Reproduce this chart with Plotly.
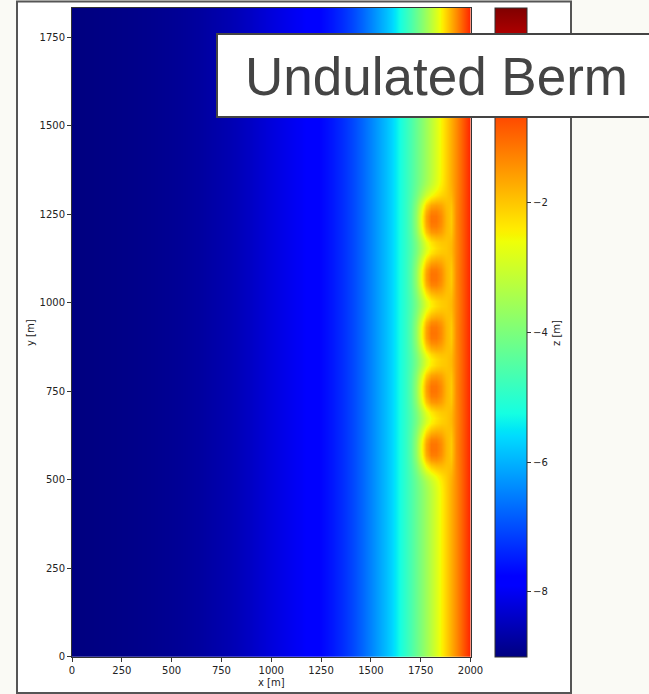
import numpy as np
import plotly.graph_objects as go

W, H = 649, 694

# Cross-shore bed profile (x in m, z in m)
profile_x = [0, 50, 100, 150, 200, 250, 300, 350, 400, 450, 500, 550, 600, 650,
             700, 750, 800, 850, 900, 950, 1000, 1050, 1100, 1150, 1200, 1250,
             1300, 1350, 1400, 1450, 1500, 1525, 1550, 1575, 1600, 1625, 1650,
             1675, 1700, 1725, 1750, 1775, 1800, 1825, 1850, 1875, 1900, 1925,
             1950, 1975, 2000]
profile_z = [-9.00, -8.99, -8.98, -8.965, -8.95, -8.935, -8.92, -8.90, -8.88,
             -8.855, -8.83, -8.80, -8.76, -8.72, -8.67, -8.62, -8.56, -8.48,
             -8.40, -8.30, -8.20, -8.12, -8.03, -7.95, -7.85, -7.72, -7.55,
             -7.35, -7.10, -6.80, -6.45, -6.27, -6.08, -5.90, -5.70, -5.45,
             -5.18, -4.90, -4.60, -4.28, -3.95, -3.60, -3.25, -2.88, -2.50,
             -2.12, -1.75, -1.38, -1.00, -0.60, -0.20]

# Undulated berm: crest positions along shore,
# crest cross-shore position, height, widths, and the shallow trough behind it
berm_y = [590, 755, 915, 1075, 1235]
berm_x = 1792
berm_height = 2.15
berm_width_sea = 57
berm_width_land = 72
berm_width_y = 65
trough_x = 1893
trough_depth = 0.6
trough_width = 20

grid_y = np.arange(0, 1850, 15)

X = np.array(profile_x, float)[None, :]
Y = grid_y[:, None].astype(float)
Z = np.repeat(np.array(profile_z, float)[None, :], len(grid_y), axis=0)
wx = np.where(X < berm_x, berm_width_sea, berm_width_land)
cross = (berm_height * np.exp(-((X - berm_x) / wx) ** 2)
         - trough_depth * np.exp(-((X - trough_x) / trough_width) ** 2))
for yc in berm_y:
    Z = Z + cross * np.exp(-(np.abs(Y - yc) / berm_width_y) ** 2.5)

jet = [
    [0.0, "rgb(0,0,128)"], [0.11, "rgb(0,0,255)"], [0.125, "rgb(0,0,255)"],
    [0.34, "rgb(0,219,255)"], [0.35, "rgb(0,230,247)"], [0.375, "rgb(21,255,226)"],
    [0.64, "rgb(239,255,8)"], [0.65, "rgb(247,245,0)"], [0.66, "rgb(255,236,0)"],
    [0.89, "rgb(255,19,0)"], [0.91, "rgb(232,0,0)"], [1.0, "rgb(128,0,0)"],
]


def px(x):
    return x / W


def py(y):
    return 1 - y / H


tick_font = dict(family="DejaVu Sans, Liberation Sans, sans-serif", size=10, color="#222")
AX_TOP, AX_BOT, AX_L, AX_R = 8, 656.7, 72, 470.5

fig = go.Figure(go.Heatmap(
    x=profile_x, y=grid_y, z=Z, zmin=-9, zmax=1, colorscale=jet, zsmooth="best",
    hoverinfo="skip",
    colorbar=dict(
        x=px(495), xanchor="left", y=py(AX_BOT), yanchor="bottom",
        len=(AX_BOT - AX_TOP) / H, lenmode="fraction",
        thickness=32, thicknessmode="pixels", xpad=0, ypad=0,
        outlinewidth=1, outlinecolor="#333",
        tickvals=[-8, -6, -4, -2], ticks="outside", ticklen=4, tickwidth=1,
        tickcolor="#333", tickfont=tick_font,
    ),
))

axis_common = dict(ticks="outside", ticklen=4, tickwidth=1, tickcolor="#333",
                   showline=True, linecolor="#333", linewidth=1, mirror=True,
                   showgrid=False, zeroline=False, automargin=False, tickfont=tick_font)

fig.update_layout(
    width=W, height=H,
    margin=dict(l=0, r=0, t=0, b=0, pad=0, autoexpand=False),
    paper_bgcolor="#fafaf5", plot_bgcolor="white",
    xaxis=dict(domain=[px(AX_L), px(AX_R)], range=[0, 2000],
               tickvals=[0, 250, 500, 750, 1000, 1250, 1500, 1750, 2000], **axis_common),
    yaxis=dict(domain=[py(AX_BOT), py(AX_TOP)], range=[0, 1832],
               tickvals=[0, 250, 500, 750, 1000, 1250, 1500, 1750], **axis_common),
    shapes=[dict(type="rect", xref="paper", yref="paper", x0=px(17), x1=px(571),
                 y0=py(693), y1=py(1.5), line=dict(color="#555", width=2),
                 fillcolor="white", layer="below")],
    annotations=[
        dict(text="x [m]", x=px(271), y=py(682), xref="paper", yref="paper",
             showarrow=False, font=tick_font, xanchor="center", yanchor="middle"),
        dict(text="y [m]", x=px(30), y=py(333), xref="paper", yref="paper",
             showarrow=False, font=tick_font, textangle=-90, xanchor="center", yanchor="middle"),
        dict(text="z [m]", x=px(556), y=py(333), xref="paper", yref="paper",
             showarrow=False, font=tick_font, textangle=-90, xanchor="center", yanchor="middle"),
        dict(text=" ", x=px(216), y=py(33.3), xref="paper", yref="paper", showarrow=False,
             xanchor="left", yanchor="top", width=432, height=81.4, bgcolor="white",
             bordercolor="#444", borderwidth=2, borderpad=0),
        dict(text="Undulated Berm", x=px(436.5), y=py(76.5), xref="paper", yref="paper",
             showarrow=False, xanchor="center", yanchor="middle",
             font=dict(family="Liberation Sans, Arial, sans-serif", size=53, color="#444")),
    ],
)

fig.write_html(
    "out.html",
    config={"displayModeBar": False},
    post_script="document.body.style.margin='0';",
)
